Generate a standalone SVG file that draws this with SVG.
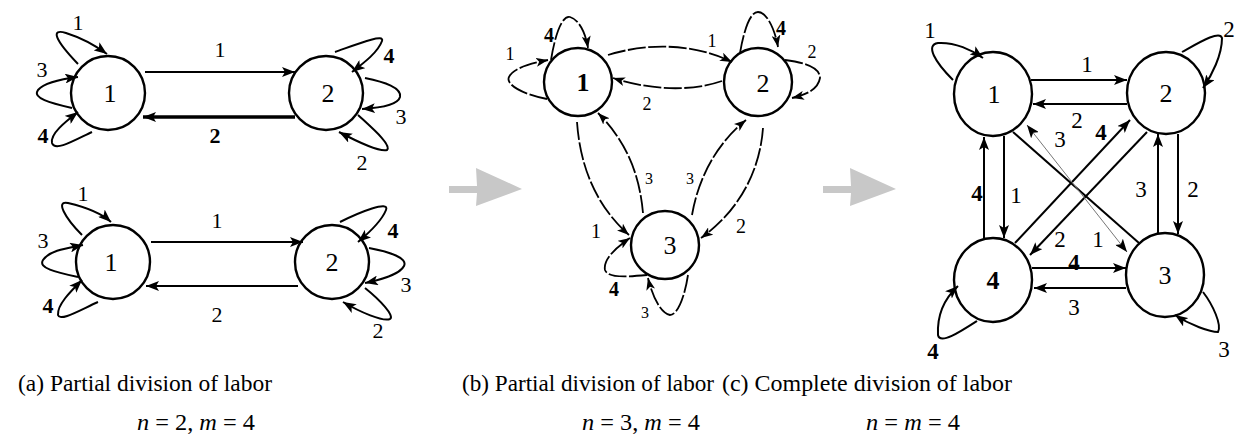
<svg xmlns="http://www.w3.org/2000/svg" width="1237" height="444" viewBox="0 0 1237 444">
<style>
.node{fill:#fff;stroke:#000;stroke-width:2.4}
.e{fill:none;stroke:#000;stroke-width:2}
.ea{fill:none;stroke:#000;stroke-width:2;marker-end:url(#ah)}
.eb{fill:none;stroke:#000;stroke-width:1.8;stroke-dasharray:18 2.5;marker-end:url(#ahs)}
.t{fill:#000;text-anchor:middle}
.nl{font-size:26px}
.la{font-size:22px}
.lb{font-size:18px}
.lc{font-size:23px}
.bd{font-weight:bold}
.cap{font-size:24px;fill:#000}
.big{fill:#c8c8c8}
</style>
<defs>
<marker id="ah" viewBox="0 0 13 10" refX="13" refY="5" markerWidth="13" markerHeight="10" orient="auto" markerUnits="userSpaceOnUse"><path d="M0,0 L13,5 L0,10 L3,5 Z" fill="#000"/></marker>
<marker id="ahs" viewBox="0 0 12 9" refX="12" refY="4.5" markerWidth="12" markerHeight="9" orient="auto" markerUnits="userSpaceOnUse"><path d="M0,0 L12,4.5 L0,9 L3,4.5 Z" fill="#000"/></marker>
<marker id="ahr" viewBox="0 0 13 10" refX="13" refY="5" markerWidth="13" markerHeight="10" orient="auto-start-reverse" markerUnits="userSpaceOnUse"><path d="M0,0 L13,5 L0,10 L3,5 Z" fill="#000"/></marker>
</defs>

<g font-family="Liberation Serif, Times New Roman, Times, Nimbus Roman, FreeSerif, Noto Serif, DejaVu Serif, serif">
<!-- Panel (a) top -->
<g id="a1-n1"><circle class="node" cx="108" cy="93" r="37"/><text class="t nl" x="110" y="102">1</text></g>
<g id="a1-n2"><circle class="node" cx="326" cy="93" r="37"/><text class="t nl" x="328" y="102">2</text></g>
<!-- Panel (a) bottom -->
<g id="a2-n1"><circle class="node" cx="113" cy="262" r="37"/><text class="t nl" x="111" y="271">1</text></g>
<g id="a2-n2"><circle class="node" cx="332" cy="262" r="37"/><text class="t nl" x="332" y="271">2</text></g>
<!-- Panel (b) -->
<g id="b-n1"><circle class="node" cx="578" cy="82" r="34"/><text class="t nl bd" x="583" y="91">1</text></g>
<g id="b-n2"><circle class="node" cx="758" cy="82" r="34"/><text class="t nl" x="763" y="92">2</text></g>
<g id="b-n3"><circle class="node" cx="665" cy="245" r="34"/><text class="t nl" x="670" y="254">3</text></g>
<!-- Panel (c) -->
<g id="c-n1"><ellipse class="node" cx="993" cy="94" rx="39" ry="42"/><text class="t nl" x="994" y="103">1</text></g>
<g id="c-n2"><ellipse class="node" cx="1166" cy="93" rx="39" ry="41"/><text class="t nl" x="1166" y="102">2</text></g>
<g id="c-n4"><ellipse class="node" cx="993" cy="280" rx="39" ry="42"/><text class="t nl bd" x="993" y="289">4</text></g>
<g id="c-n3"><ellipse class="node" cx="1165" cy="275" rx="39" ry="42"/><text class="t nl" x="1165" y="284">3</text></g>

<g id="connectors">
<!-- (a) top -->
<path class="ea" d="M145,72 L295,72"/>
<path class="ea" d="M295,117 L143,117" style="stroke-width:3.6"/>
<path class="ea" d="M78,64 C55,40 50,28 66,33 C82,38 96,46 107,54"/>
<path class="ea" d="M72,108 C50,103 32,98 38,90 C45,82 62,79 78,77"/>
<path class="ea" d="M92,132 C75,140 55,152 52,143 C50,134 65,122 78,112"/>
<path class="ea" d="M335,52 C355,45 385,33 382,41 C378,52 365,62 352,72"/>
<path class="ea" d="M365,78 C385,82 402,88 400,97 C398,105 378,108 362,109"/>
<path class="ea" d="M358,115 C372,128 392,145 387,150 C380,152 358,142 339,132"/>
<!-- (a) bottom -->
<path class="ea" d="M151,242 L303,242"/>
<path class="ea" d="M298,286 L146,286"/>
<path class="ea" d="M82,235 C65,218 55,200 68,203 C85,207 100,212 111,222"/>
<path class="ea" d="M78,277 C55,272 38,268 43,260 C50,250 68,248 83,245"/>
<path class="ea" d="M98,302 C80,310 60,322 58,315 C57,305 70,292 82,280"/>
<path class="ea" d="M340,222 C360,212 390,200 386,210 C382,220 370,232 358,242"/>
<path class="ea" d="M369,248 C390,252 408,258 404,266 C400,274 380,280 365,283"/>
<path class="ea" d="M365,288 C380,300 395,316 390,319 C383,322 360,312 343,302"/>
<!-- (b) -->
<path class="eb" d="M608,55 C650,42 695,44 732,62"/>
<path class="eb" d="M722,81 C690,92 650,90 613,78"/>
<path class="eb" d="M551,60 C555,35 562,15 570,17 C580,20 586,35 588,48"/>
<path class="eb" d="M547,99 C525,95 505,85 509,77 C513,68 532,63 548,60"/>
<path class="eb" d="M740,53 C744,30 750,12 758,12 C767,12 775,30 778,47"/>
<path class="eb" d="M785,60 C800,62 820,66 820,78 C818,90 805,95 792,98"/>
<path class="eb" d="M577,122 C580,165 595,205 629,235"/>
<path class="eb" d="M643,213 C640,180 630,145 598,113"/>
<path class="eb" d="M692,215 C698,180 715,145 746,120"/>
<path class="eb" d="M763,128 C760,170 740,210 701,238"/>
<path class="eb" d="M647,275 C625,277 608,278 605,270 C603,260 615,248 630,238"/>
<path class="eb" d="M688,275 C685,295 678,315 670,315 C660,313 652,295 648,278"/>
<!-- (c) -->
<path class="ea" d="M1031,80 L1127,80"/>
<path class="ea" d="M1127,104 L1033,104"/>
<path class="ea" d="M1004,136 L1004,238"/>
<path class="ea" d="M984,238 L984,137"/>
<path class="ea" d="M1178,134 L1178,234"/>
<path class="ea" d="M1158,233 L1158,134"/>
<path class="ea" d="M1032,268 L1126,268"/>
<path class="ea" d="M1126,288 L1034,288"/>
<path class="ea" d="M1015,243 L1130,120"/>
<path class="ea" d="M1147,132 L1030,255"/>
<path class="e" d="M1013,132 L1139,243"/>
<path d="M1027,125 L1127,252" style="fill:none;stroke:#777;stroke-width:1;marker-start:url(#ahr);marker-end:url(#ahr)"/>
<path class="ea" d="M953,80 C935,62 925,45 938,43 C955,42 972,50 983,58"/>
<path class="ea" d="M1182,52 C1200,42 1220,30 1222,38 C1222,55 1212,75 1203,88"/>
<path class="ea" d="M977,321 C960,332 940,345 938,335 C937,315 945,298 958,286"/>
<path class="ea" d="M1203,292 C1213,305 1222,325 1218,332 C1210,332 1190,325 1175,315"/>
</g>

<g id="labels">
<!-- (a) top -->
<text class="t la" x="220" y="57">1</text>
<text class="t la bd" x="215" y="143">2</text>
<text class="t la" x="78" y="30">1</text>
<text class="t la" x="42" y="77">3</text>
<text class="t la bd" x="43" y="143" fill="#333">4</text>
<text class="t la bd" x="389" y="63" fill="#333">4</text>
<text class="t la" x="401" y="124">3</text>
<text class="t la" x="362" y="170">2</text>
<!-- (a) bottom -->
<text class="t la" x="217" y="228">1</text>
<text class="t la" x="217" y="322">2</text>
<text class="t la" x="83" y="201">1</text>
<text class="t la" x="43" y="248">3</text>
<text class="t la bd" x="48" y="313">4</text>
<text class="t la bd" x="393" y="238">4</text>
<text class="t la" x="406" y="292">3</text>
<text class="t la" x="378" y="338">2</text>
<!-- (b) -->
<text class="t lb" x="712" y="47">1</text>
<text class="t lb" x="647" y="110" fill="#999">2</text>
<text class="t lb bd" x="549" y="42" fill="#444" style="font-size:20px">4</text>
<text class="t lb" x="510" y="60">1</text>
<text class="t lb bd" x="781" y="35" style="font-size:20px">4</text>
<text class="t lb" x="812" y="58">2</text>
<text class="t lb" x="596" y="238" style="font-size:20px">1</text>
<text class="t lb" x="649" y="184" style="font-size:16px">3</text>
<text class="t lb" x="690" y="184" style="font-size:16px">3</text>
<text class="t lb" x="741" y="233" style="font-size:20px">2</text>
<text class="t lb bd" x="614" y="296" style="font-size:20px">4</text>
<text class="t lb" x="645" y="318" style="font-size:16px">3</text>
<!-- (c) -->
<text class="t lc" x="1087" y="72">1</text>
<text class="t lc" x="1077" y="128">2</text>
<text class="t lc" x="1016" y="203">1</text>
<text class="t lc bd" x="977" y="201">4</text>
<text class="t lc" x="1193" y="197">2</text>
<text class="t lc" x="1141" y="197">3</text>
<text class="t lc bd" x="1074" y="270">4</text>
<text class="t lc" x="1074" y="315">3</text>
<text class="t lc bd" x="1101" y="140">4</text>
<text class="t lc" x="1060" y="247">2</text>
<text class="t lc" x="1060" y="147">3</text>
<text class="t lc" x="1098" y="247">1</text>
<text class="t lc" x="930" y="38">1</text>
<text class="t lc" x="1229" y="37">2</text>
<text class="t lc bd" x="933" y="359">4</text>
<text class="t lc" x="1224" y="357">3</text>
</g>

<g id="captions">
<text class="cap" x="18" y="391" textLength="254" lengthAdjust="spacingAndGlyphs">(a) Partial division of labor</text>
<text class="cap" x="137" y="430" textLength="118" lengthAdjust="spacingAndGlyphs"><tspan font-style="italic">n</tspan> = 2, <tspan font-style="italic">m</tspan> = 4</text>
<text class="cap" x="462" y="391" textLength="252" lengthAdjust="spacingAndGlyphs">(b) Partial division of labor</text>
<text class="cap" x="582" y="430" textLength="118" lengthAdjust="spacingAndGlyphs"><tspan font-style="italic">n</tspan> = 3, <tspan font-style="italic">m</tspan> = 4</text>
<text class="cap" x="722" y="391" textLength="290" lengthAdjust="spacingAndGlyphs">(c) Complete division of labor</text>
<text class="cap" x="866" y="430" textLength="94" lengthAdjust="spacingAndGlyphs"><tspan font-style="italic">n</tspan> = <tspan font-style="italic">m</tspan> = 4</text>
</g>
</g>

<g id="big-arrows">
<path class="big" d="M449,186 L477,186 L476,168 L522,189 L476,206 L477,193 L449,193 Z"/>
<path class="big" d="M823,186 L851,186 L850,168 L896,189 L850,206 L851,193 L823,193 Z"/>
</g>
</svg>
